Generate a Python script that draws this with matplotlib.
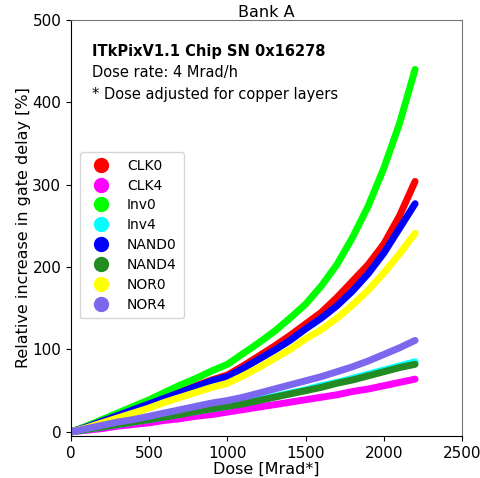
import numpy as np
import matplotlib
matplotlib.use("Agg")
import matplotlib.pyplot as plt
from matplotlib.lines import Line2D

# dose points [Mrad*] and relative gate-delay increase [%]
dose = [0, 100, 200, 300, 400, 500, 600, 700, 800, 900, 1000, 1100,
        1200, 1300, 1400, 1500, 1600, 1700, 1800, 1900, 2000, 2100, 2200]

clk0 = [0, 6, 13, 20, 27, 35, 42, 49, 56, 63, 69, 80,
        92, 104, 117, 131, 145, 163, 183, 203, 228, 262, 304]
clk4 = [0, 2, 4, 7, 9, 11, 14, 16, 19, 21, 24, 27,
        30, 33, 36, 39, 42, 45, 49, 52, 56, 60, 64]
inv0 = [0, 7, 15, 23, 31, 39, 48, 57, 65, 74, 82, 95,
        108, 122, 138, 155, 177, 203, 236, 274, 320, 374, 440]
inv4 = [0, 3, 6, 9, 12, 15, 18, 22, 25, 28, 31, 35,
        39, 43, 47, 51, 56, 60, 65, 70, 75, 80, 85]
nand0 = [0, 6, 13, 20, 27, 34, 41, 48, 55, 62, 67, 77,
         88, 99, 111, 125, 138, 153, 171, 192, 217, 247, 277]
nand4 = [0, 3, 6, 9, 12, 15, 18, 21, 25, 28, 31, 34,
         38, 42, 46, 50, 54, 59, 63, 68, 73, 78, 82]
nor0 = [0, 5, 11, 17, 23, 29, 36, 42, 48, 54, 59, 68,
        78, 89, 100, 113, 124, 138, 154, 172, 193, 216, 241]
nor4 = [0, 4, 8, 12, 15, 19, 23, 27, 31, 35, 38, 42,
        47, 52, 57, 62, 67, 73, 79, 86, 94, 102, 111]

names = ["CLK0", "CLK4", "Inv0", "Inv4", "NAND0", "NAND4", "NOR0", "NOR4"]
series = [clk0, clk4, inv0, inv4, nand0, nand4, nor0, nor4]
colors = ["red", "magenta", "lime", "cyan", "blue", "forestgreen",
          "yellow", "mediumslateblue"]

fig = plt.figure(figsize=(4.81, 4.78), dpi=100)
ax = fig.add_axes([0.1476, 0.0879, 0.8129, 0.8703])

for vals, c in zip(series, colors):
    ax.plot(dose, vals, color=c, lw=5, solid_capstyle="round",
            solid_joinstyle="round")

ax.set_xlim(0, 2500)
ax.set_ylim(-5, 500)
ax.set_xticks(np.arange(0, 2501, 500))
ax.set_yticks(np.arange(0, 501, 100))
ax.tick_params(labelsize=11)
ax.set_xlabel("Dose [Mrad*]", fontsize=11.5, labelpad=1)
ax.set_ylabel("Relative increase in gate delay [%]", fontsize=11.5,
              labelpad=1)
ax.set_title("Bank A", fontsize=11.5, pad=2)
for s in ["top", "right"]:
    ax.spines[s].set_color("0.45")

ax.text(0.054, 0.925, "ITkPixV1.1 Chip SN 0x16278", transform=ax.transAxes,
        fontsize=10.5, fontweight="bold", va="center")
ax.text(0.054, 0.873, "Dose rate: 4 Mrad/h", transform=ax.transAxes,
        fontsize=10.5, va="center")
ax.text(0.054, 0.822, "* Dose adjusted for copper layers",
        transform=ax.transAxes, fontsize=10.5, va="center")

handles = [Line2D([], [], ls="none", marker="o", ms=10, color=c)
           for c in colors]
ax.legend(handles, names, loc="upper left", bbox_to_anchor=(0.005, 0.7),
          fontsize=10, handletextpad=0.9, borderpad=0.5, labelspacing=0.42)

fig.savefig("out.png", dpi=100)
